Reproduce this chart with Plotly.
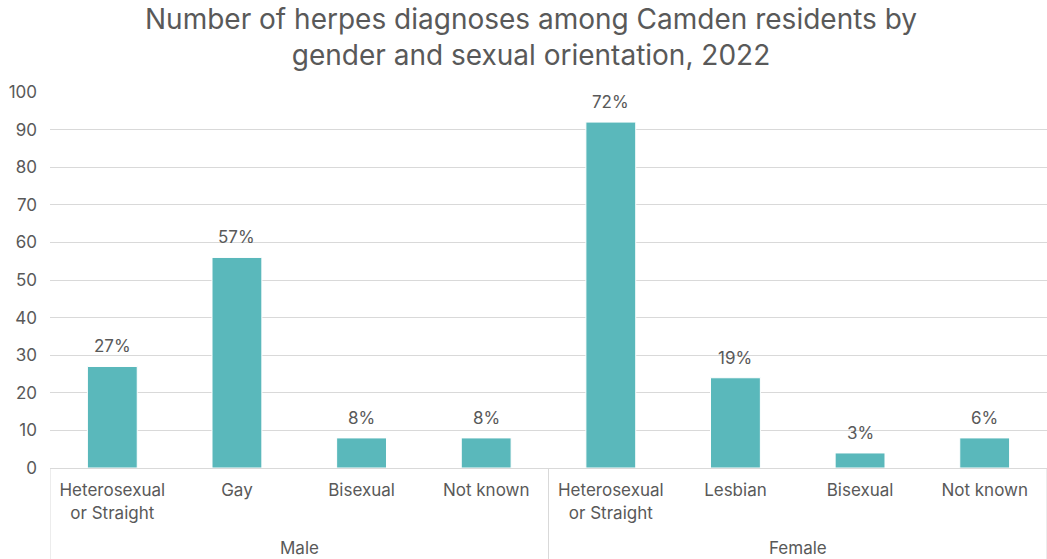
import plotly.graph_objects as go

genders = ["Male", "Female"]
orientations = [
    "Heterosexual<br>or Straight", "Gay", "Bisexual", "Not known",
    "Heterosexual<br>or Straight", "Lesbian", "Bisexual", "Not known",
]
diagnoses = [27, 56, 8, 8, 92, 24, 4, 8]
share_labels = ["27%", "57%", "8%", "8%", "72%", "19%", "3%", "6%"]

font_family = "Inter, Lato, 'Open Sans', sans-serif"
grey = "#595959"
line_grey = "#d9d9d9"

positions = list(range(len(diagnoses)))
per_group = len(diagnoses) // len(genders)

fig = go.Figure(
    go.Bar(
        x=positions,
        y=diagnoses,
        width=0.4,
        marker=dict(color="#5ab8bb", line=dict(color="#ffffff", width=1)),
        hovertext=share_labels,
    )
)

plot_h = 559 - 92 - 91  # height of the plotting area in px

annotations = [
    dict(
        text="Number of herpes diagnoses among Camden residents by<br>gender and sexual orientation, 2022",
        xref="paper", yref="paper", x=0.482, y=1 + 92 / plot_h,
        xanchor="center", yanchor="top", showarrow=False,
        font=dict(size=28, color=grey, family=font_family),
    )
]

# percentage share above each bar
for xp, val, lab in zip(positions, diagnoses, share_labels):
    annotations.append(
        dict(
            text=lab, x=xp, y=val, xref="x", yref="y",
            xanchor="center", yanchor="bottom", yshift=8,
            showarrow=False,
            font=dict(size=17, color=grey, family=font_family),
        )
    )

# gender group labels and the dividers between groups
shapes = []
for g, name in enumerate(genders):
    centre = g * per_group + (per_group - 1) / 2
    annotations.append(
        dict(
            text=name, x=centre, xref="x", y=-80 / plot_h, yref="paper",
            xanchor="center", yanchor="middle", showarrow=False,
            font=dict(size=17, color=grey, family=font_family),
        )
    )
for edge in range(len(genders) + 1):
    xb = edge * per_group - 0.5
    shapes.append(
        dict(
            type="line", xref="x", yref="paper",
            x0=xb, x1=xb, y0=0, y1=-91 / plot_h,
            line=dict(color=line_grey, width=1),
        )
    )

fig.update_layout(
    width=1047,
    height=559,
    margin=dict(l=50, r=0, t=92, b=91),
    paper_bgcolor="white",
    plot_bgcolor="white",
    showlegend=False,
    font=dict(family=font_family, color=grey, size=17),
    annotations=annotations,
    shapes=shapes,
)

fig.update_yaxes(
    range=[0, 100],
    dtick=10,
    showgrid=True,
    gridcolor=line_grey,
    gridwidth=1,
    zeroline=False,
    showline=False,
    ticks="",
    ticklabelstandoff=12,
    tickfont=dict(size=17, color=grey),
)

fig.update_xaxes(
    range=[-0.5, len(diagnoses) - 0.5],
    tickvals=positions,
    ticktext=orientations,
    showgrid=False,
    zeroline=False,
    showline=True,
    linecolor=line_grey,
    linewidth=1,
    ticks="",
    ticklabelstandoff=7,
    tickfont=dict(size=17, color=grey),
)

fig.write_html("out.html")
